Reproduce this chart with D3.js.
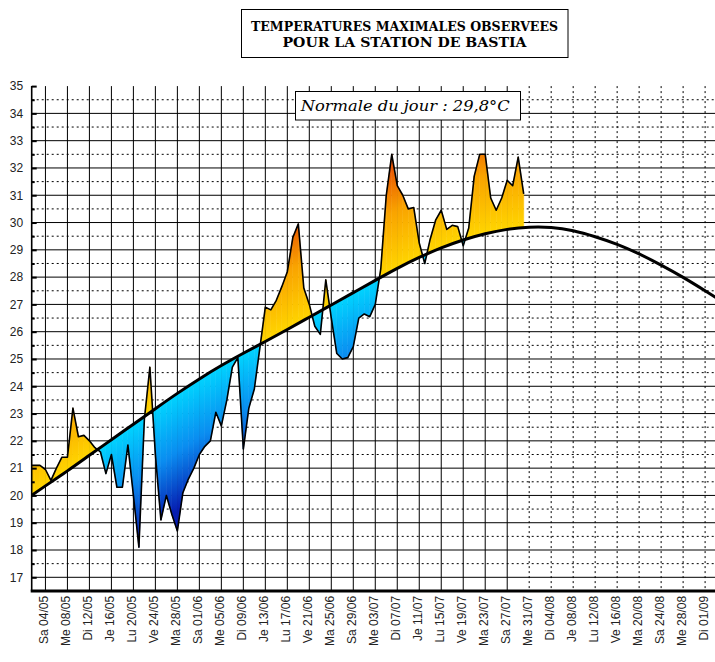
<!DOCTYPE html>
<html>
<head>
<meta charset="utf-8">
<script src="https://cdn.jsdelivr.net/npm/d3@7"></script>
<style>
  body { margin: 0; background: #fff; }
  svg { display: block; }
</style>
</head>
<body>
<div id="chart"></div>
<script>
// day offsets are counted from Sa 04/05 (day 0)
var firstDay = -3; // first value = 01/05

// observed daily maximum temperatures, 01/05 -> 30/07
var temps = [
  21.1, 21.1, 21.1, 20.95, 20.55, 21.0, 21.4, 21.4, 23.2, 22.15,
  22.2, 22.0, 21.75, 21.6, 20.8, 21.5, 20.3, 20.3, 21.85, 20.0,
  18.1, 22.8, 24.7, 21.5, 19.1, 20.0, 19.3, 18.7, 20.1, 20.6,
  21.0, 21.5, 21.8, 22.0, 23.05, 22.55, 23.5, 24.7, 25.05, 21.7,
  23.2, 23.9, 25.4, 26.9, 26.8, 27.15, 27.65, 28.2, 29.45, 29.95,
  27.6, 27.0, 26.2, 25.9, 27.9, 26.5, 25.2, 25.0, 25.05, 25.45,
  26.5, 26.65, 26.55, 27.0, 28.3, 31.0, 32.5, 31.35, 31.0, 30.5,
  30.55, 29.25, 28.5, 29.4, 30.1, 30.45, 29.75, 29.9, 29.85, 29.15,
  29.8, 31.7, 32.5, 32.5, 30.9, 30.45, 30.9, 31.55, 31.35, 32.4,
  31.05
];

// normal of the day, read at a few dates
var normDays = [-3, 0, 4, 8, 12, 16, 20, 24, 28, 32, 36, 40, 44, 48, 52, 56, 60,
                64, 68, 72, 76, 80, 84, 88, 92, 96, 100, 104, 108, 112, 116, 120, 123];
var normVals = [19.93, 20.35, 20.9, 21.47, 22.04, 22.61, 23.18, 23.74, 24.27, 24.76, 25.21, 25.64, 26.08, 26.53, 26.98, 27.43, 27.88,
                28.32, 28.72, 29.07, 29.36, 29.59, 29.75, 29.83, 29.82, 29.7, 29.48, 29.2, 28.85, 28.44, 27.99, 27.5, 27.12];

var tickLabels = ["Sa 04/05", "Me 08/05", "Di 12/05", "Je 16/05", "Lu 20/05", "Ve 24/05", "Ma 28/05",
  "Sa 01/06", "Me 05/06", "Di 09/06", "Je 13/06", "Lu 17/06", "Ve 21/06", "Ma 25/06", "Sa 29/06",
  "Me 03/07", "Di 07/07", "Je 11/07", "Lu 15/07", "Ve 19/07", "Ma 23/07", "Sa 27/07", "Me 31/07",
  "Di 04/08", "Je 08/08", "Lu 12/08", "Ve 16/08", "Ma 20/08", "Sa 24/08", "Me 28/08", "Di 01/09"];
var lastPastTick = 21; // ticks after this one are dotted

var yTicks = [17, 18, 19, 20, 21, 22, 23, 24, 25, 26, 27, 28, 29, 30, 31, 32, 33, 34, 35];
var yHalfTicks = [17.5, 18.5, 19.5, 20.5, 21.5, 22.5, 23.5, 24.5, 25.5, 26.5, 27.5, 28.5, 29.5,
                  30.5, 31.5, 32.5, 33.5, 34.5];

var titleLines = ["TEMPERATURES MAXIMALES OBSERVEES", "POUR LA STATION DE BASTIA"];
var noteText = "Normale du jour : 29,8°C";

// scales
var W = 715, H = 662;
var left = 31.7, right = 715, bottom = 590.9;
var x = d3.scaleLinear().domain([-2.5, 121.8]).range([left, right]);
var y = d3.scaleLinear().domain([17, 35]).range([577.3, 86.1]);
var norm = d3.scaleLinear().domain(normDays).range(normVals);

var svg = d3.select("#chart").append("svg")
    .attr("width", W)
    .attr("height", H)
    .style("font-family", "'Liberation Sans', Arial, sans-serif");

var defs = svg.append("defs");
defs.append("clipPath").attr("id", "plot")
  .append("rect").attr("x", left).attr("y", 0).attr("width", right - left).attr("height", bottom);

// grid
var grid = svg.append("g");
grid.selectAll(".hs").data(yTicks.slice(0, -1)).enter().append("line")
    .attr("x1", left).attr("x2", right)
    .attr("y1", d => y(d)).attr("y2", d => y(d))
    .attr("stroke", "#000").attr("stroke-width", 1);
grid.selectAll(".hd").data(yHalfTicks).enter().append("line")
    .attr("x1", left).attr("x2", right)
    .attr("y1", d => y(d)).attr("y2", d => y(d))
    .attr("stroke", "#000").attr("stroke-width", 1)
    .attr("stroke-dasharray", "2,3");
grid.selectAll(".v").data(tickLabels).enter().append("line")
    .attr("x1", (d, i) => x(i * 4)).attr("x2", (d, i) => x(i * 4))
    .attr("y1", y(35)).attr("y2", bottom)
    .attr("stroke", "#000").attr("stroke-width", 1)
    .attr("stroke-dasharray", (d, i) => i > lastPastTick ? "2,3" : null);

// anomaly fills, one piece per day, split where the curve crosses the normal
var pieces = [];
for (var i = 0; i < temps.length - 1; i++) {
  var d0 = firstDay + i, d1 = d0 + 1;
  var t0 = temps[i], t1 = temps[i + 1];
  var n0 = norm(d0), n1 = norm(d1);
  var a0 = t0 - n0, a1 = t1 - n1;
  if (a0 * a1 >= 0) {
    pieces.push({pts: [[d0, t0], [d1, t1], [d1, n1], [d0, n0]], sign: (a0 + a1) >= 0 ? 1 : -1, dm: d0 + 0.5});
  } else {
    var f = a0 / (a0 - a1);
    var dc = d0 + f, tc = t0 + f * (t1 - t0);
    pieces.push({pts: [[d0, t0], [dc, tc], [d0, n0]], sign: a0 > 0 ? 1 : -1, dm: d0 + f / 2});
    pieces.push({pts: [[dc, tc], [d1, t1], [d1, n1]], sign: a1 > 0 ? 1 : -1, dm: dc + (1 - f) / 2});
  }
}

var warm = ["#ffd500", "#f9a300", "#e43c00"];
var cold = ["#00d4ff", "#0a8cf0", "#061cb0"];

pieces.forEach(function(p, k) {
  var nm = norm(p.dm);
  var g = defs.append("linearGradient").attr("id", "g" + k)
      .attr("gradientUnits", "userSpaceOnUse")
      .attr("x1", 0).attr("x2", 0)
      .attr("y1", y(nm)).attr("y2", y(nm + p.sign * 4.3));
  var cols = p.sign > 0 ? warm : cold;
  cols.forEach(function(c, j) {
    g.append("stop").attr("offset", j / (cols.length - 1)).attr("stop-color", c);
  });
});

var fills = svg.append("g").attr("clip-path", "url(#plot)");
fills.selectAll("path").data(pieces).enter().append("path")
    .attr("d", p => "M" + p.pts.map(q => x(q[0]) + "," + y(q[1])).join("L") + "Z")
    .attr("fill", (p, k) => "url(#g" + k + ")")
    .attr("stroke", (p, k) => "url(#g" + k + ")")
    .attr("stroke-width", 0.6);

// observed line
var obs = temps.map((t, i) => ({d: firstDay + i, t: t}));
fills.append("path")
    .datum(obs)
    .attr("fill", "none")
    .attr("stroke", "#000")
    .attr("stroke-width", 1.6)
    .attr("stroke-linejoin", "round")
    .attr("d", d3.line().x(d => x(d.d)).y(d => y(d.t)));

// normal line
var normPts = normDays.map((d, i) => ({d: d, t: normVals[i]}));
fills.append("path")
    .datum(normPts)
    .attr("fill", "none")
    .attr("stroke", "#000")
    .attr("stroke-width", 3)
    .attr("d", d3.line().curve(d3.curveNatural).x(d => x(d.d)).y(d => y(d.t)));

// y axis
var yAxis = svg.append("g")
    .attr("transform", "translate(" + left + ",0)")
    .call(d3.axisLeft(y).tickValues(yTicks).tickSize(-5).tickPadding(8.5));
yAxis.select(".domain").remove();
yAxis.selectAll(".tick line").attr("stroke-width", 2);
yAxis.selectAll("text").attr("font-size", 12).attr("fill", "#222")
    .style("font-family", "'Liberation Sans', Arial, sans-serif");

var yHalf = svg.append("g")
    .attr("transform", "translate(" + left + ",0)")
    .call(d3.axisLeft(y).tickValues(yHalfTicks).tickSize(-3).tickFormat(""));
yHalf.select(".domain").remove();
yHalf.selectAll(".tick line").attr("stroke-width", 2);

svg.append("line")
    .attr("x1", left).attr("x2", left).attr("y1", y(35)).attr("y2", bottom)
    .attr("stroke", "#000").attr("stroke-width", 1.6);

// x axis
var xAxis = svg.append("g")
    .attr("transform", "translate(0," + bottom + ")")
    .call(d3.axisBottom(x).tickValues(tickLabels.map((d, i) => i * 4))
      .tickSize(0).tickFormat((d, i) => tickLabels[i]));
xAxis.select(".domain").remove();
xAxis.selectAll("text")
    .attr("x", -5).attr("y", 2.5).attr("dy", 0)
    .attr("transform", "rotate(-90)")
    .style("text-anchor", "end")
    .attr("font-size", 12).attr("fill", "#222")
    .style("font-family", "'Liberation Sans', Arial, sans-serif");

svg.append("line")
    .attr("x1", left - 1).attr("x2", right).attr("y1", bottom).attr("y2", bottom)
    .attr("stroke", "#000").attr("stroke-width", 3);

// title box
svg.append("rect")
    .attr("x", 241.5).attr("y", 9.5).attr("width", 326.5).attr("height", 48)
    .attr("fill", "#fff").attr("stroke", "#000").attr("stroke-width", 1);
var titleLen = [307, 244];
svg.selectAll(".title").data(titleLines).enter().append("text")
    .attr("x", 404.5).attr("y", (d, i) => 30.7 + i * 16)
    .attr("text-anchor", "middle")
    .attr("textLength", (d, i) => titleLen[i])
    .attr("lengthAdjust", "spacingAndGlyphs")
    .style("font-family", "'DejaVu Serif', serif")
    .style("font-weight", "bold")
    .style("font-size", "13.5px")
    .text(d => d);

// normal of the day box
svg.append("rect")
    .attr("x", 295.5).attr("y", 91.5).attr("width", 225).attr("height", 28.5)
    .attr("fill", "#fff").attr("stroke", "#000").attr("stroke-width", 1);
svg.append("text")
    .attr("x", 300.7).attr("y", 111)
    .attr("textLength", 209)
    .attr("lengthAdjust", "spacingAndGlyphs")
    .style("font-family", "'DejaVu Serif', serif")
    .style("font-style", "italic")
    .style("font-size", "15px")
    .text(noteText);
</script>
</body>
</html>
